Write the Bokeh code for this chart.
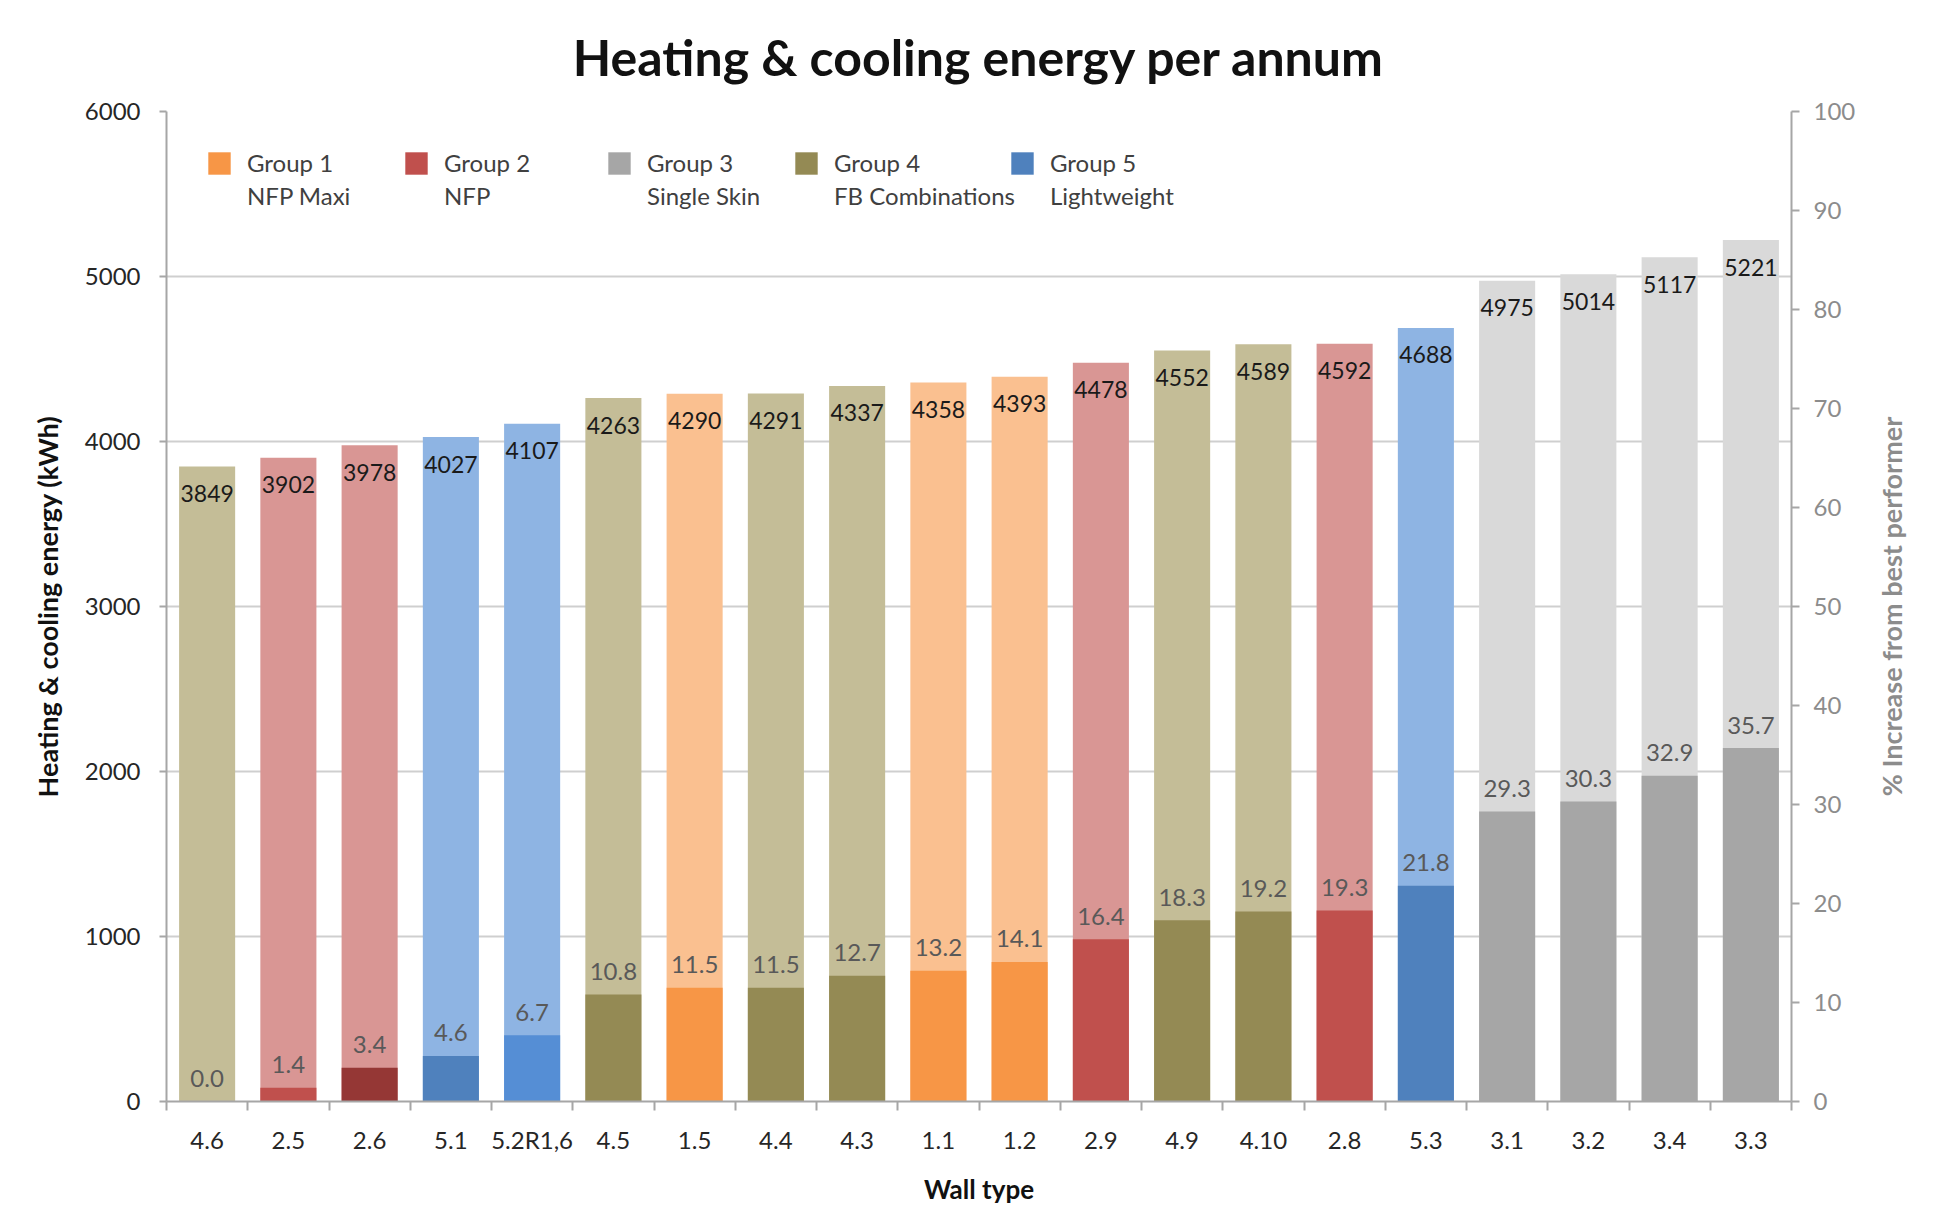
from bokeh.plotting import figure
from bokeh.layouts import row
from bokeh.models import (Range1d, LinearAxis, FixedTicker, ColumnDataSource,
                          Legend, LegendItem, Title)
from bokeh.core.properties import value
from bokeh.embed import file_html
from bokeh.resources import INLINE

# ---------------- data ----------------
wall_types = ["4.6", "2.5", "2.6", "5.1", "5.2R1,6", "4.5", "1.5", "4.4", "4.3", "1.1",
              "1.2", "2.9", "4.9", "4.10", "2.8", "5.3", "3.1", "3.2", "3.4", "3.3"]
energy_kwh = [3849, 3902, 3978, 4027, 4107, 4263, 4290, 4291, 4337, 4358,
              4393, 4478, 4552, 4589, 4592, 4688, 4975, 5014, 5117, 5221]
pct_increase = [0.0, 1.4, 3.4, 4.6, 6.7, 10.8, 11.5, 11.5, 12.7, 13.2,
                14.1, 16.4, 18.3, 19.2, 19.3, 21.8, 29.3, 30.3, 32.9, 35.7]
wall_group = [4, 2, 2, 5, 5, 4, 1, 4, 4, 1, 1, 2, 4, 4, 2, 5, 3, 3, 3, 3]
group_ids = [1, 2, 3, 4, 5]
group_names = ["Group 1", "Group 2", "Group 3", "Group 4", "Group 5"]
group_desc = ["NFP Maxi", "NFP", "Single Skin", "FB Combinations", "Lightweight"]
left_ticks = [0, 1000, 2000, 3000, 4000, 5000, 6000]
right_ticks = [0, 10, 20, 30, 40, 50, 60, 70, 80, 90, 100]

# ---------------- styles ----------------
light_col = {1: "#FAC090", 2: "#D99694", 3: "#D9D9D9", 4: "#C4BD97", 5: "#8EB4E3"}
dark_col = {1: "#F79646", 2: "#C0504D", 3: "#A6A6A6", 4: "#948A54", 5: "#4F81BD"}
dark_override = {"2.6": "#953735", "5.2R1,6": "#558ED5"}
FONT = "Lato"
AXIS_GREY = "#A6A6A6"
W_TOTAL, H = 1930, 1207
W1 = 1872                    # main chart; the rest holds the right-hand axis title
BL, BR, BT, BB = 166, 81, 111, 97
BB_SIDE = 92

n = len(wall_types)
xs = [i + 0.5 for i in range(n)]
src = ColumnDataSource(dict(
    x=xs,
    energy=energy_kwh,
    pct=pct_increase,
    light=[light_col[g] for g in wall_group],
    dark=[dark_override.get(w, dark_col[g]) for w, g in zip(wall_types, wall_group)],
    elabel=[str(v) for v in energy_kwh],
    plabel=["%.1f" % v for v in pct_increase],
))

p = figure(width=W1, height=H, x_range=Range1d(0, n), y_range=Range1d(0, 6000),
           output_backend="svg", toolbar_location=None,
           min_border_left=BL, min_border_right=BR, min_border_top=BT,
           min_border_bottom=BB)
p.extra_y_ranges = {"pct": Range1d(0, 100)}
p.outline_line_color = None
p.background_fill_color = "white"
p.border_fill_color = "white"

# title
p.title.text = "Heating & cooling energy per annum"
p.title.align = "center"
p.title.text_font = FONT
p.title.text_font_size = "50px"
p.title.text_font_style = "bold"
p.title.text_color = "#111111"
p.title.standoff = 49

# bars
r_light = p.vbar(x="x", top="energy", width=0.69, fill_color="light", line_color=None, source=src)
r_dark = p.vbar(x="x", top="pct", width=0.69, fill_color="dark", line_color=None,
                y_range_name="pct", source=src)
r_blank = p.vbar(x=[], top=[], width=0.69, fill_alpha=0, line_alpha=0)

# value labels
p.text(x="x", y="energy", text="elabel", source=src, text_align="center",
       text_baseline="middle", y_offset=27, text_font=value(FONT),
       text_font_size="23px", text_color="#1A1A1A")
p.text(x="x", y="pct", text="plabel", source=src, y_range_name="pct",
       text_align="center", text_baseline="middle", y_offset=-23,
       text_font=value(FONT), text_font_size="24px", text_color="#595959")

# grid
p.xgrid.visible = False
p.ygrid.ticker = FixedTicker(ticks=left_ticks)
p.ygrid.grid_line_color = "#CFCFCF"
p.ygrid.grid_line_width = 2

# x axis
xa = p.xaxis[0]
xa.ticker = FixedTicker(ticks=xs, minor_ticks=list(range(n + 1)))
xa.major_label_overrides = {x: w for x, w in zip(xs, wall_types)}
xa.major_tick_line_color = None
xa.major_tick_out = 0
xa.major_tick_in = 0
xa.minor_tick_line_color = AXIS_GREY
xa.minor_tick_line_width = 2
xa.minor_tick_out = 9
xa.minor_tick_in = 0
xa.axis_line_color = AXIS_GREY
xa.axis_line_width = 2
xa.major_label_standoff = 14
xa.major_label_text_font = FONT
xa.major_label_text_font_size = "24px"
xa.major_label_text_color = "#262626"
xa.axis_label = "Wall type"
xa.axis_label_text_font = FONT
xa.axis_label_text_font_size = "26px"
xa.axis_label_text_font_style = "bold"
xa.axis_label_text_color = "#111111"
xa.axis_label_standoff = 16

# left axis
ya = p.yaxis[0]
ya.ticker = FixedTicker(ticks=left_ticks)
ya.minor_tick_line_color = None
ya.major_tick_out = 7
ya.major_tick_in = 0
ya.major_tick_line_color = AXIS_GREY
ya.major_tick_line_width = 2
ya.axis_line_color = AXIS_GREY
ya.axis_line_width = 2
ya.major_label_standoff = 19
ya.major_label_text_font = FONT
ya.major_label_text_font_size = "24px"
ya.major_label_text_color = "#262626"
ya.axis_label = "Heating & cooling energy (kWh)"
ya.axis_label_text_font = FONT
ya.axis_label_text_font_size = "27px"
ya.axis_label_text_font_style = "bold"
ya.axis_label_text_color = "#111111"
ya.axis_label_standoff = 18

# right axis
ra = LinearAxis(y_range_name="pct", ticker=FixedTicker(ticks=right_ticks))
ra.minor_tick_line_color = None
ra.major_tick_out = 8
ra.major_tick_in = 0
ra.major_tick_line_color = AXIS_GREY
ra.major_tick_line_width = 2
ra.axis_line_color = AXIS_GREY
ra.axis_line_width = 2
ra.major_label_standoff = 14
ra.major_label_text_font = FONT
ra.major_label_text_font_size = "24px"
ra.major_label_text_color = "#8C8C8C"
p.add_layout(ra, "right")

# legend: one block per line so each sits where the reference has it
legend_x = [39, 236, 439, 626, 842]
for gid, name, desc, lx in zip(group_ids, group_names, group_desc, legend_x):
    idx = next(i for i, (w, g) in enumerate(zip(wall_types, wall_group))
               if g == gid and w not in dark_override)
    for lab, rend, ind, ly in ((name, r_dark, idx, 924), (desc, r_blank, None, 891)):
        item = LegendItem(label=lab, renderers=[rend], index=ind)
        leg = Legend(items=[item], location=(lx, ly), orientation="horizontal",
                     glyph_width=28, glyph_height=28, label_standoff=14,
                     padding=0, margin=0, spacing=0, border_line_color=None,
                     background_fill_alpha=0, label_text_font=FONT,
                     label_text_font_size="24px", label_text_color="#404040")
        p.add_layout(leg, "center")

# narrow companion panel carrying the right-hand axis title (reads bottom-to-top)
p2 = figure(width=W_TOTAL - W1, height=H, output_backend="svg", toolbar_location=None,
            x_axis_location=None, y_axis_location=None,
            min_border_left=0, min_border_right=0, min_border_top=BT,
            min_border_bottom=BB_SIDE)
p2.outline_line_color = None
p2.xgrid.visible = False
p2.ygrid.visible = False
p2.add_layout(Title(text="% Increase from best performer", align="center",
                    text_font=FONT, text_font_size="27px", text_font_style="bold",
                    text_color="#8C8C8C", standoff=0), "left")

layout = row(p, p2)
open("out.html", "w").write(file_html(layout, INLINE))
